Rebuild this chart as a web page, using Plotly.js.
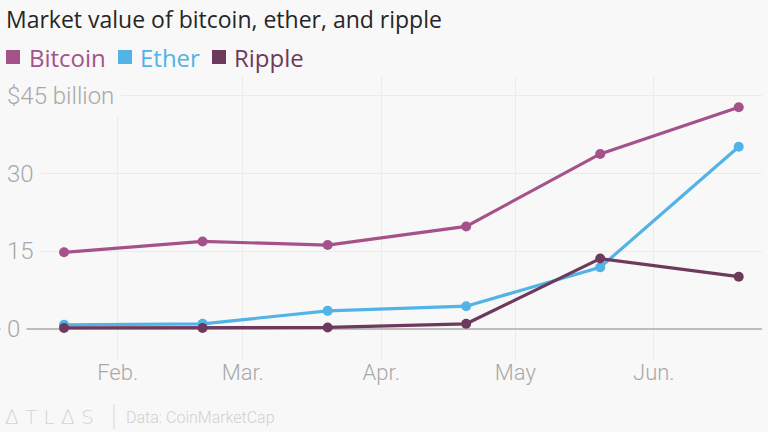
<!DOCTYPE html>
<html>
<head>
<meta charset="utf-8">
<script src="https://cdn.plot.ly/plotly-3.0.1.min.js"></script>
<style>html,body{margin:0;padding:0;background:#f8f8f8;}#chart{width:768px;height:432px;}</style>
</head>
<body>
<div id="chart"></div>
<script>
const dates = ['2017-01-20', '2017-02-20', '2017-03-20', '2017-04-20', '2017-05-20', '2017-06-20'];
const bitcoin = [14.8, 16.9, 16.2, 19.8, 33.8, 42.8];
const ether = [0.8, 1.0, 3.5, 4.4, 11.9, 35.2];
const ripple = [0.2, 0.2, 0.3, 1.0, 13.6, 10.1];
const seriesNames = ['Bitcoin', 'Ether', 'Ripple'];
const seriesColors = ['#a5528a', '#52b3e6', '#6e3a5c'];
const monthTicks = ['2017-02-01', '2017-03-01', '2017-04-01', '2017-05-01', '2017-06-01'];
const monthLabels = ['Feb.', 'Mar.', 'Apr.', 'May', 'Jun.'];
const yTicks = [0, 15, 30, 45];
const yLabels = ['0', '15', '30', '$45 billion'];

const bg = '#f8f8f8';
const allSeries = [bitcoin, ether, ripple];
const traces = allSeries.map((vals, i) => ({
  x: dates, y: vals, type: 'scatter', mode: 'lines+markers', name: seriesNames[i],
  line: {color: seriesColors[i], width: 3.2},
  marker: {color: seriesColors[i], size: 10},
  cliponaxis: false
}));

const annotations = [];
yTicks.forEach((v, i) => {
  annotations.push({
    xref: 'paper', yref: 'y', x: 0, y: v, xanchor: 'left', yanchor: 'middle',
    text: yLabels[i], showarrow: false, xshift: 0, yshift: 0,
    bgcolor: bg, borderpad: 6,
    font: {family: 'Roboto', size: 24, color: '#a9a9a9', weight: 300}
  });
});
// legend: squares as shapes, names as text
const legendSquareX = [6, 118, 212];
const legendTextX = [27, 138, 232];
const shapes = [];
seriesNames.forEach((n, i) => {
  shapes.push({
    type: 'rect', xref: 'paper', yref: 'paper', xsizemode: 'pixel', ysizemode: 'pixel',
    xanchor: 0, yanchor: 1, x0: legendSquareX[i], x1: legendSquareX[i] + 14,
    y0: 77 - 50, y1: 77 - 64, fillcolor: seriesColors[i], line: {width: 0}
  });
  annotations.push({
    xref: 'paper', yref: 'paper', x: 0, y: 1, xanchor: 'left', yanchor: 'middle',
    xshift: legendTextX[i], yshift: 77 - 57,
    text: n, showarrow: false,
    font: {family: 'Open Sans', size: 24, color: seriesColors[i]}
  });
});
// footer
annotations.push({
  xref: 'paper', yref: 'paper', x: 0, y: 0, xanchor: 'left', yanchor: 'middle',
  xshift: 3, yshift: -(417 - 361),
  text: '∆ T L ∆ S', showarrow: false,
  font: {family: 'DejaVu Sans', size: 20, color: '#d4d4d4', weight: 200}
});
annotations.push({
  xref: 'paper', yref: 'paper', x: 0, y: 0, xanchor: 'left', yanchor: 'middle',
  xshift: 124, yshift: -(417 - 361),
  text: 'Data: CoinMarketCap', showarrow: false,
  font: {family: 'Roboto', size: 16, color: '#d0d0d0', weight: 300}
});
shapes.push({
  type: 'line', xref: 'paper', yref: 'paper', xsizemode: 'pixel', ysizemode: 'pixel',
  xanchor: 0, yanchor: 0, x0: 114, x1: 114, y0: -(404 - 361), y1: -(429 - 361),
  line: {color: '#d8d8d8', width: 1}
});

const layout = {
  width: 768, height: 432,
  paper_bgcolor: bg, plot_bgcolor: bg,
  margin: {l: 0, r: 6, t: 77, b: 71},
  showlegend: false,
  title: {
    text: 'Market value of bitcoin, ether, and ripple',
    x: 0, xref: 'paper', xanchor: 'left', y: 0.953, yref: 'container', yanchor: 'middle', pad: {l: 6},
    font: {family: 'Open Sans', size: 23, color: '#262626'}
  },
  xaxis: {
    type: 'date',
    range: ['2017-01-05 16:00', '2017-06-25 05:00'],
    tickvals: monthTicks, ticktext: monthLabels,
    showgrid: true, gridcolor: '#ebebeb', gridwidth: 1,
    zeroline: false, showline: false, ticks: '',
    ticklabelstandoff: -4,
    tickfont: {family: 'Roboto', size: 22, color: '#a9a9a9', weight: 300},
    fixedrange: true
  },
  yaxis: {
    range: [-6.18, 48.65],
    tickvals: yTicks, showticklabels: false,
    showgrid: true, gridcolor: '#ebebeb', gridwidth: 1,
    zeroline: true, zerolinecolor: '#bdbdbd', zerolinewidth: 1.5,
    showline: false, ticks: '', fixedrange: true
  },
  shapes: shapes,
  annotations: annotations
};

Plotly.newPlot('chart', traces, layout, {displayModeBar: false, staticPlot: true});
</script>
</body>
</html>
